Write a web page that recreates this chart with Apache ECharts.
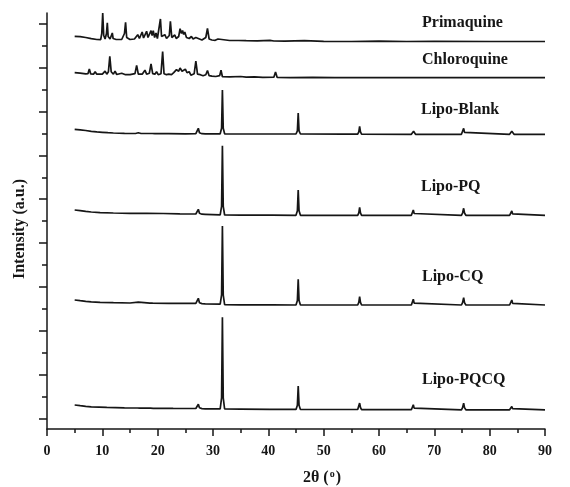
<!DOCTYPE html>
<html>
<head>
<meta charset="utf-8">
<script src="https://cdn.jsdelivr.net/npm/echarts@6/dist/echarts.min.js"></script>
<style>
html,body{margin:0;padding:0;background:#fff;}
#chart{width:570px;height:487px;}
</style>
</head>
<body>
<div id="chart"></div>
<script>
// ---- Data (2θ in degrees, intensity in a.u. relative to each trace's baseline) ----
var traceNames = ['Primaquine', 'Chloroquine', 'Lipo-Blank', 'Lipo-PQ', 'Lipo-CQ', 'Lipo-PQCQ'];
var traceOffsets = [387.5, 351.3, 294.7, 213.7, 124, 19.2];

var primaquine = [
  [5.0,5.2],[6,4.8],[7,4],[8,2.8],[9,2],[9.7,1.8],[9.9,8],[10.07,28.5],[10.25,6],[10.5,2.5],
  [10.75,8],[10.9,18.7],[11.05,5],[11.4,2.5],[11.65,4],[11.8,8.5],[11.95,3],[12.5,2],[13.5,2],
  [14.0,8],[14.2,19.2],[14.4,4],[15,2],[15.8,2.5],[16.1,3.5],[16.4,6.8],[16.7,3],[17.0,4],
  [17.2,9.5],[17.45,3.5],[17.8,4.5],[18.0,10.2],[18.25,4],[18.6,5],[18.8,10.8],[19.0,6],
  [19.2,10.8],[19.45,4],[19.7,8.5],[19.95,3],[20.3,5],[20.5,22.5],[20.7,5],[21.0,3],[21.3,6.8],
  [21.6,3],[22.1,6],[22.3,20.2],[22.55,4],[22.9,3],[23.1,6.5],[23.35,3],[23.8,5],[24.05,12.8],
  [24.3,8],[24.5,11],[24.7,7],[24.9,9.5],[25.2,4],[25.7,3],[26.1,5],[26.4,2.5],[26.9,4],
  [27.15,2.5],[28.0,1.5],[28.7,4],[29.0,13],[29.3,2.5],[29.8,1.5],[30.1,3],[30.4,1.2],[30.9,2.5],
  [31.2,1],[33,1],[34.0,1],[34.3,3],[34.6,1],[36,0.8],[38,0.6],[40.3,1.2],[41,0.5],[43,0.3],
  [46.5,0.8],[50,0.2],[55,0],[60,0.3],[65,0],[70,0.2],[80,0],[90,0]
];
var chloroquine = [
  [5.0,5],[6.0,4.5],[7.0,3.8],[7.4,4],[7.65,8.7],[7.9,3.8],[8.4,3.5],[8.7,6],[9.0,3.5],[9.5,3.5],
  [9.7,5.5],[10.0,3.5],[10.5,6.5],[10.8,3.5],[11.1,6],[11.35,21.4],[11.6,6],[12.0,3.5],[12.3,6.5],
  [12.6,3.2],[13.5,4.5],[14.2,3],[15.0,3],[15.9,4],[16.2,12.4],[16.5,3.5],[17.2,3.5],[17.7,7.5],
  [18.0,3.5],[18.5,4.5],[18.8,13.7],[19.1,4],[19.5,3.5],[19.8,6],[20.1,3],[20.6,4],[20.9,26.2],
  [21.15,4],[21.6,3],[22.0,3.5],[22.5,3],[22.9,5],[23.4,8],[23.8,6.5],[24.05,9.7],[24.4,6.5],
  [25.0,8.5],[25.3,5],[25.7,6],[26.0,2.5],[26.6,4],[26.9,16.7],[27.2,3.5],[27.7,3],[28.2,2],
  [28.7,3],[29.0,7.2],[29.3,2],[29.8,1.5],[30.5,1.2],[31.2,2],[31.45,7.4],[31.7,1],[33,0.8],
  [35,1.2],[36,0.5],[37.5,0.8],[39,0.3],[41.0,0.5],[41.3,5.7],[41.6,0.3],[44,0],[48,0.3],
  [52,0],[60,0],[70,0],[80,0],[90,0]
];
var lipoBlank = [
  [5.0,5],[6.0,4.4],[7.0,3.8],[8.0,3],[9.0,2.4],[10.0,2],[11,1.6],[12,1.3],[14,1],[16,0.8],
  [16.5,1.5],[17,0.8],[19,0.8],[19.2,1.5],[19.5,0.7],[22,0.6],[25,0.5],[26.9,0.6],[27.15,2.5],
  [27.35,6],[27.55,1.5],[28.0,0.6],[28.35,1.8],[28.6,0.5],[31.3,0.5],[31.55,6],[31.7,44.3],
  [31.85,6],[32.1,0.5],[35,0.3],[40.3,0.3],[40.5,1.5],[40.7,0.3],[45.0,0.3],[45.25,3.5],
  [45.4,21.3],[45.55,3.5],[45.8,0.3],[53.6,0.2],[53.85,1.2],[54.1,0.2],[56.15,0.2],[56.35,2.5],
  [56.5,8],[56.65,2.5],[56.85,0.2],[65.85,0],[66.1,1.2],[66.25,3],[66.4,1.2],[66.6,0],[74.9,0],
  [75.15,2],[75.3,6],[75.45,2],[75.7,0],[83.6,0],[83.85,1.2],[84.0,3],[84.15,1.2],[84.4,0],[90,0]
];
var lipoPQ = [
  [5,5.3],[6,4.6],[7,3.9],[8,3.3],[9.6,2.6],[12,2.3],[15,2],[18,1.9],[21,1.8],[24,1.5],
  [26.9,1.3],[27.15,3],[27.35,6],[27.55,2],[28.0,1.1],[28.3,2.8],[28.6,1],[31.3,0.4],[31.55,9],
  [31.7,69.6],[31.85,9],[32.1,0.3],[35,0.2],[40.3,0.1],[40.5,1.2],[40.7,0.1],[45.0,0],[45.25,4.5],
  [45.4,25.3],[45.55,4.5],[45.8,0],[53.6,0],[53.85,1.2],[54.1,0],[56.15,0],[56.35,2.5],[56.5,8],
  [56.65,2.5],[56.85,0],[65.85,0],[66.05,1.8],[66.2,5.3],[66.35,1.8],[66.6,0],[74.9,0],[75.1,2.3],
  [75.3,7],[75.45,2.3],[75.7,0],[83.6,0],[83.85,1.4],[84.0,4.3],[84.15,1.4],[84.4,0],[90,0]
];
var lipoCQ = [
  [5,5],[6,4.3],[7,3.7],[8,3.2],[9.6,2.7],[12,2.3],[15,2],[16.5,2.8],[16.8,1.9],[18.6,1.9],
  [18.8,2.6],[19.1,1.8],[22,1.7],[25,1.6],[26.9,1.6],[27.15,3.5],[27.35,6.7],[27.55,2.2],
  [28.0,1.4],[28.3,3],[28.6,1.2],[31.3,0.8],[31.55,10],[31.7,79],[31.85,10],[32.1,0.3],[35,0.2],
  [40.3,0.2],[40.5,1.5],[40.7,0.2],[45.0,0],[45.25,4.5],[45.4,25.7],[45.55,4.5],[45.8,0],
  [53.6,0],[53.85,1.3],[54.1,0],[56.15,0],[56.35,2.6],[56.5,8.3],[56.65,2.6],[56.85,0],
  [65.85,0],[66.05,1.9],[66.2,5.7],[66.35,1.9],[66.6,0],[74.9,0],[75.1,2.4],[75.3,7.3],
  [75.45,2.4],[75.7,0],[83.6,0],[83.85,1.6],[84.0,5],[84.15,1.6],[84.4,0],[90,0]
];
var lipoPQCQ = [
  [5,4.8],[6,4.1],[7,3.5],[8,3],[10.8,2.4],[14,2],[16.3,1.8],[16.5,2.8],[16.8,1.7],[18.7,1.6],
  [18.9,2.6],[19.2,1.5],[22.8,1.4],[26.9,1.3],[27.15,3],[27.35,5.5],[27.55,2],[28.0,1.2],
  [28.3,2.5],[28.6,1],[31.3,0.9],[31.55,12],[31.7,92.5],[31.85,12],[32.1,0.8],[35,0.7],
  [40.3,0.5],[40.5,1.8],[40.7,0.5],[45.0,0.4],[45.25,4.5],[45.4,23.8],[45.55,4.5],[45.8,0.4],
  [53.6,0.3],[53.85,1.3],[54.1,0.3],[56.15,0.3],[56.35,2.3],[56.5,6.7],[56.65,2.3],[56.85,0.2],
  [65.85,0.1],[66.05,1.7],[66.2,5],[66.35,1.7],[66.6,0.1],[74.9,0],[75.1,2.2],[75.3,6.7],
  [75.45,2.2],[75.7,0],[83.6,0],[83.85,1.1],[84.0,3.2],[84.15,1.1],[84.4,0],[90,0]
];
var traces = [primaquine, chloroquine, lipoBlank, lipoPQ, lipoCQ, lipoPQCQ];

var xTickMin = 0, xTickMax = 90, xTickStep = 10;
var xAxisTitle = '2θ (';
var yAxisTitle = 'Intensity (a.u.)';

// ---- Chart ----
var chart = echarts.init(document.getElementById('chart'), null, {renderer: 'canvas'});
var FONT = 'Liberation Serif, Times New Roman, serif';
var INK = '#161616';

var series = traces.map(function (pts, i) {
  return {
    name: traceNames[i],
    type: 'line',
    xAxisIndex: 0, yAxisIndex: 0,
    showSymbol: false,
    symbol: 'none',
    animation: false,
    lineStyle: {color: INK, width: 1.7},
    data: pts.map(function (p) { return [p[0], p[1] + traceOffsets[i]]; })
  };
});

// label positions (pixels)
var labelPos = [[422, 23], [422, 59.5], [421, 109.5], [421, 187], [422, 277], [422, 380]];
var graphics = traceNames.map(function (n, i) {
  return {
    type: 'text', x: labelPos[i][0], y: labelPos[i][1], silent: true,
    style: {text: n, fill: INK, font: 'bold 16px ' + FONT, textVerticalAlign: 'middle', verticalAlign: 'middle'}
  };
});
graphics.push({
  type: 'text', x: 20, y: 229, rotation: Math.PI / 2, silent: true,
  style: {text: yAxisTitle, fill: INK, font: 'bold 16px ' + FONT,
    textAlign: 'center', align: 'center', textVerticalAlign: 'middle', verticalAlign: 'middle'}
});
graphics.push({
  type: 'text', x: 322, y: 478, silent: true,
  style: {
    text: '{m|' + xAxisTitle + '}{s|o}{m|)}',
    textAlign: 'center', align: 'center', textVerticalAlign: 'middle', verticalAlign: 'middle',
    rich: {
      m: {fontFamily: FONT, fontWeight: 'bold', fontSize: 16, fill: INK, color: INK},
      s: {fontFamily: FONT, fontWeight: 'bold', fontSize: 10, fill: INK, color: INK, padding: [0, 1, 7, 1]}
    }
  }
});

chart.setOption({
  animation: false,
  backgroundColor: '#fff',
  grid: [
    {left: 47, right: 25, top: 13, bottom: 58, containLabel: false},
    {left: 47, right: 25, top: 24, bottom: 68.7, containLabel: false}
  ],
  xAxis: [
    {
      gridIndex: 0, type: 'value', min: xTickMin, max: xTickMax, interval: xTickStep,
      axisLine: {show: true, onZero: false, lineStyle: {color: INK, width: 1.5}},
      axisTick: {show: true, length: 7, lineStyle: {color: INK, width: 1.5}},
      minorTick: {show: true, splitNumber: 2, length: 4, lineStyle: {color: INK, width: 1.5}},
      axisLabel: {show: true, color: INK, fontFamily: FONT, fontWeight: 'bold', fontSize: 14, margin: 15},
      splitLine: {show: false}, minorSplitLine: {show: false}
    },
    {
      gridIndex: 1, type: 'value', min: 0, max: 90, show: false
    }
  ],
  yAxis: [
    {
      gridIndex: 0, type: 'value', min: 0, max: 416,
      axisLine: {show: true, onZero: false, lineStyle: {color: INK, width: 1.5}},
      axisTick: {show: false}, axisLabel: {show: false}, splitLine: {show: false}
    },
    {
      gridIndex: 1, type: 'value', min: 0, max: 9, interval: 1,
      axisLine: {show: false, onZero: false},
      axisTick: {show: true, length: 8, lineStyle: {color: INK, width: 1.5}},
      minorTick: {show: true, splitNumber: 2, length: 5, lineStyle: {color: INK, width: 1.5}},
      axisLabel: {show: false}, splitLine: {show: false}, minorSplitLine: {show: false}
    }
  ],
  series: series,
  graphic: graphics
});
</script>
</body>
</html>
